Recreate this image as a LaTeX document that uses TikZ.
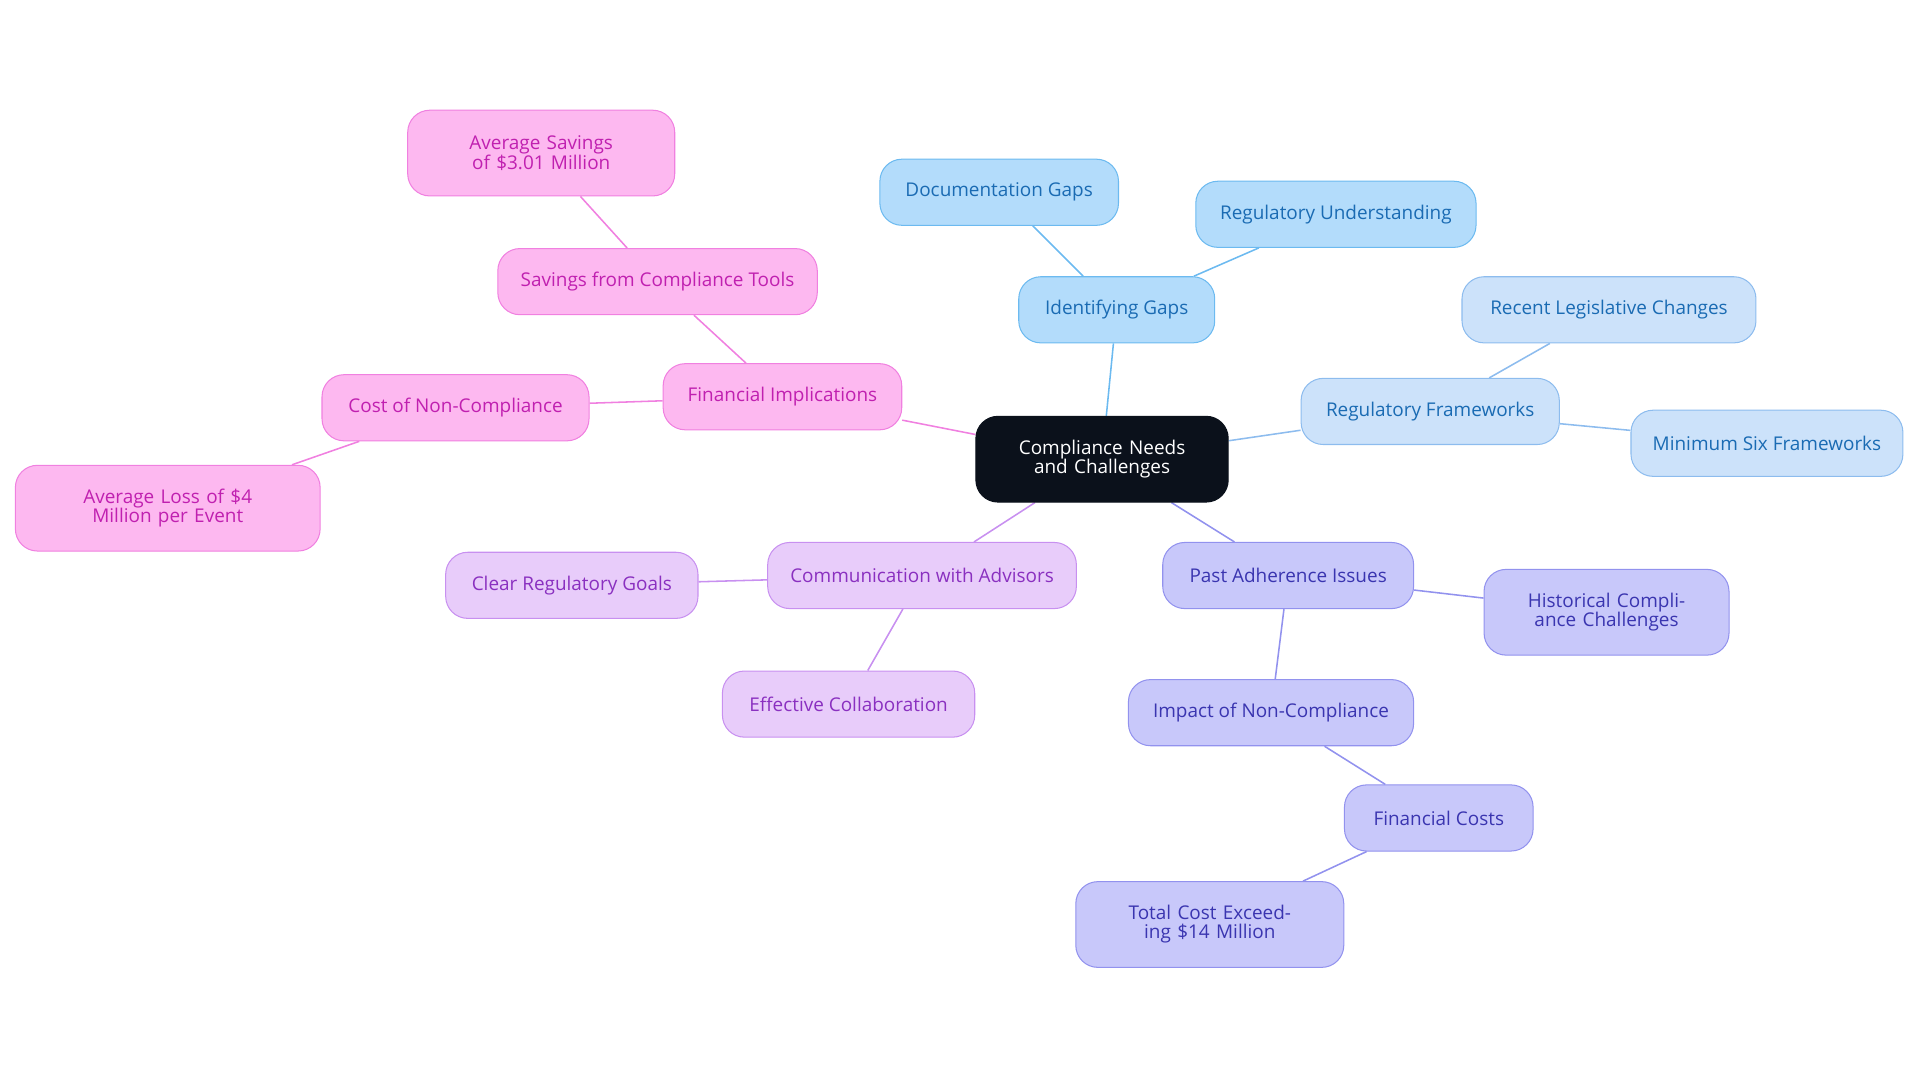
\documentclass[tikz,border=0pt]{standalone}
\usepackage{fontspec}
\setmainfont{Open Sans}
\usetikzlibrary{positioning,backgrounds}

\definecolor{rootfill}{HTML}{0B111B}
\definecolor{bluefill}{HTML}{B3DCFB}\definecolor{bluedraw}{HTML}{6CBAF0}\definecolor{bluetext}{HTML}{1A6BB3}
\definecolor{skyfill}{HTML}{CCE2FA}\definecolor{skydraw}{HTML}{8DBCEE}
\definecolor{indfill}{HTML}{C8C8FA}\definecolor{inddraw}{HTML}{9292EE}\definecolor{indtext}{HTML}{3A35B0}
\definecolor{lavfill}{HTML}{E8CCFA}\definecolor{lavdraw}{HTML}{C890F0}\definecolor{lavtext}{HTML}{8A30C0}
\definecolor{pinkfill}{HTML}{FDB8F0}\definecolor{pinkdraw}{HTML}{F080E0}\definecolor{pinktext}{HTML}{C020B0}

\begin{document}
\begin{tikzpicture}[x=0.025cm, y=-0.025cm,
    topic/.style={rectangle, rounded corners=0.45cm, draw, line width=0.6pt, align=center,
        minimum height=1.35cm, inner sep=2pt, font=\fontsize{11}{11}\selectfont},
    blue/.style={topic, fill=bluefill, draw=bluedraw, text=bluetext},
    sky/.style={topic, fill=skyfill, draw=skydraw, text=bluetext},
    ind/.style={topic, fill=indfill, draw=inddraw, text=indtext},
    lav/.style={topic, fill=lavfill, draw=lavdraw, text=lavtext},
    pink/.style={topic, fill=pinkfill, draw=pinkdraw, text=pinktext},
    tall/.style={minimum height=1.75cm},
    link/.style={line width=0.9pt}
]
\useasboundingbox (0,0) rectangle (1568,884);

% Root
\node[topic, fill=rootfill, draw=rootfill, text=white, tall, minimum width=5.15cm, text width=4.6cm] (root) at (900,375) {Compliance Needs and Challenges};

% Identifying gaps
\node[blue, minimum width=4cm] (gaps) at (912,253) {Identifying Gaps};
\node[blue, minimum width=4.87cm] (docs) at (816,157) {Documentation Gaps};
\node[blue, minimum width=5.72cm] (understand) at (1091,175) {Regulatory Understanding};

% Frameworks
\node[sky, minimum width=5.27cm] (frame) at (1168,336) {Regulatory Frameworks};
\node[sky, minimum width=6cm] (recent) at (1314,253) {Recent Legislative Changes};
\node[sky, minimum width=5.55cm] (six) at (1443,362) {Minimum Six Frameworks};

% Past adherence
\node[ind, minimum width=5.12cm] (past) at (1052,470) {Past Adherence Issues};
\node[ind, tall, minimum width=5cm, text width=4.4cm] (hist) at (1312,500) {Historical Compliance Challenges};
\node[ind, minimum width=5.82cm] (impact) at (1038,582) {Impact of Non-Compliance};
\node[ind, minimum width=3.85cm] (costs) at (1175,668) {Financial Costs};
\node[ind, tall, minimum width=5.47cm, text width=4.6cm] (total) at (988,755) {Total Cost Exceeding \$14 Million};

% Communication
\node[lav, minimum width=6.3cm] (comm) at (753,470) {Communication with Advisors};
\node[lav, minimum width=5.15cm] (clear) at (467,478) {Clear Regulatory Goals};
\node[lav, minimum width=5.15cm] (collab) at (693,575) {Effective Collaboration};

% Financial implications
\node[pink, minimum width=4.87cm] (fin) at (639,324) {Financial Implications};
\node[pink, minimum width=6.52cm] (tools) at (537,230) {Savings from Compliance Tools};
\node[pink, tall, minimum width=5.45cm, text width=4.5cm] (avgsave) at (442,125) {Average Savings of \$3.01 Million};
\node[pink, minimum width=5.45cm] (noncomp) at (372,333) {Cost of Non-Compliance};
\node[pink, tall, minimum width=6.22cm, text width=5.4cm] (avgloss) at (137,415) {Average Loss of \$4 Million per Event};

% Links
\begin{scope}[on background layer]
\draw[link, bluedraw] (root) -- (gaps) (gaps) -- (docs) (gaps) -- (understand);
\draw[link, skydraw] (root) -- (frame) (frame) -- (recent) (frame) -- (six);
\draw[link, inddraw] (root) -- (past) (past) -- (hist) (past) -- (impact) (impact) -- (costs) (costs) -- (total);
\draw[link, lavdraw] (root) -- (comm) (comm) -- (clear) (comm) -- (collab);
\draw[link, pinkdraw] (root) -- (fin) (fin) -- (tools) (tools) -- (avgsave) (fin) -- (noncomp) (noncomp) -- (avgloss);
\end{scope}

\end{tikzpicture}
\end{document}
